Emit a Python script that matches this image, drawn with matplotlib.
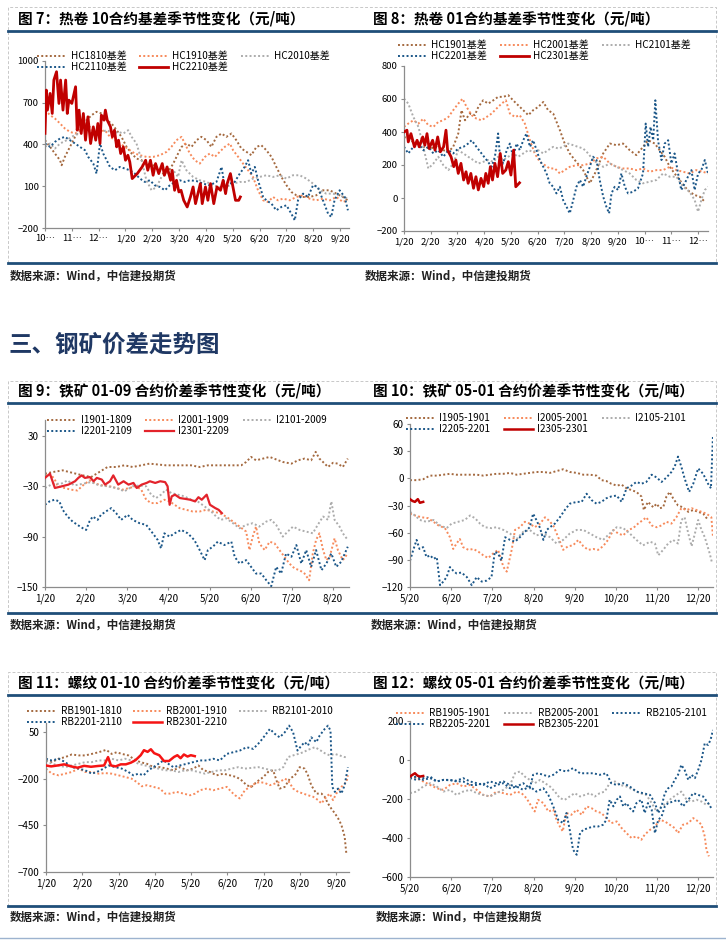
import matplotlib.pyplot as plt
from matplotlib.lines import Line2D
from matplotlib.patches import Rectangle

plt.rcParams['font.family'] = ['Noto Sans CJK SC', 'DejaVu Sans']

W, H = 726, 940

BROWN = '#A4693F'
ORANGE = '#F78A5B'
GRAY = '#ACACAC'
BLUE = '#1A5688'
DARK_RED = '#C00000'
RED = '#E3232B'
RED2 = '#F51414'
NAVY = '#1F4E79'
AXIS = '#8C8C8C'

# x values are months after the first tick of each chart

# ---- 图7 热卷10合约基差 ----
ticks7 = ['10⋯', '11⋯', '12⋯', '1/20', '2/20', '3/20', '4/20', '5/20', '6/20', '7/20', '8/20', '9/20']
hc1810 = [(0, 431), (0.19, 383), (0.37, 335), (0.56, 287), (0.62, 251), (0.74, 311), (0.93, 383), (1.12, 455),
          (1.30, 503), (1.55, 575), (1.74, 611), (1.92, 635), (2.11, 623), (2.30, 575), (2.48, 551), (2.67, 503),
          (2.85, 455), (3.04, 383), (3.23, 335), (3.41, 299), (3.60, 287), (3.78, 263), (4.03, 251), (4.22, 215),
          (4.40, 191), (4.59, 203), (4.78, 263), (4.96, 335), (5.09, 383), (5.27, 407), (5.46, 383), (5.65, 431),
          (5.83, 455), (6.02, 431), (6.20, 383), (6.39, 455), (6.58, 479), (6.76, 455), (6.95, 479), (7.13, 431),
          (7.32, 371), (7.51, 347), (7.69, 323), (7.88, 383), (8.06, 395), (8.25, 359), (8.44, 311), (8.62, 239),
          (8.81, 167), (9.00, 107), (9.18, 59), (9.37, 35), (9.62, 23), (9.86, 23), (10.11, 35), (10.36, 71),
          (10.61, 71), (10.86, 47), (11.10, 23), (11.29, -1)]
hc1910 = [(0, 647), (0.19, 611), (0.37, 587), (0.56, 551), (0.74, 515), (0.93, 491), (1.12, 479), (1.30, 503),
          (1.49, 539), (1.67, 527), (1.86, 479), (2.23, 503), (2.42, 455), (2.61, 431), (2.79, 407), (2.98, 383),
          (3.16, 359), (3.35, 335), (3.54, 323), (3.78, 311), (4.03, 311), (4.28, 323), (4.53, 347), (4.71, 383),
          (4.90, 431), (5.09, 455), (5.21, 407), (5.40, 335), (5.58, 287), (5.77, 263), (5.96, 311), (6.14, 335),
          (6.33, 311), (6.51, 347), (6.70, 383), (6.89, 407), (7.01, 359), (7.20, 311), (7.38, 263), (7.57, 215),
          (7.75, 167), (7.94, 71), (8.13, -1), (8.31, -13), (8.50, 23), (8.68, -1), (8.87, 11), (9.12, -1),
          (9.37, 23), (9.62, 35), (9.86, 11), (10.11, -1), (10.36, 11), (10.61, -1), (10.86, 23), (11.10, -13),
          (11.29, -1)]
hc2010 = [(0, 383), (0.19, 407), (0.37, 371), (0.56, 407), (0.81, 431), (0.99, 455), (1.24, 479), (1.43, 491),
          (1.67, 503), (1.92, 515), (2.11, 491), (2.30, 503), (2.54, 479), (2.73, 491), (2.92, 479), (3.10, 503),
          (3.23, 455), (3.41, 407), (3.60, 287), (3.78, 143), (3.97, 71), (4.16, 95), (4.34, 167), (4.53, 191),
          (4.78, 215), (4.96, 167), (5.09, 287), (5.27, 215), (5.52, 167), (5.77, 143), (6.02, 131), (6.27, 107),
          (6.51, 95), (6.76, 95), (7.01, 119), (7.26, 131), (7.51, 131), (7.75, 155), (8.00, 167), (8.25, 179),
          (8.50, 167), (8.75, 179), (9.00, 155), (9.24, 179), (9.49, 179), (9.74, 155), (9.99, 119), (10.24, 71),
          (10.48, 47), (10.73, 47), (10.98, 35), (11.29, 11)]
hc2110 = [(0, 407), (0.19, 383), (0.37, 419), (0.56, 443), (0.74, 455), (0.93, 431), (1.12, 407), (1.30, 383),
          (1.49, 359), (1.61, 311), (1.80, 263), (1.92, 191), (2.05, 407), (2.17, 335), (2.30, 287), (2.42, 239),
          (2.61, 215), (2.79, 239), (2.98, 227), (3.16, 215), (3.35, 191), (3.54, 155), (3.72, 131), (3.91, 143),
          (4.09, 107), (4.28, 95), (4.47, 71), (4.65, 107), (4.84, 131), (5.02, 143), (5.21, 131), (5.40, 143),
          (5.65, 137), (5.89, 119), (6.14, 107), (6.39, 131), (6.58, 239), (6.70, 95), (6.89, 119), (7.07, 131),
          (7.26, 191), (7.44, 239), (7.57, 287), (7.69, 191), (7.82, 239), (7.94, 143), (8.13, 23), (8.25, -1),
          (8.44, -25), (8.62, -73), (8.81, -49), (9.00, -37), (9.18, -97), (9.31, -145), (9.43, -1), (9.62, 47),
          (9.80, 23), (9.99, 107), (10.17, 95), (10.36, -1), (10.55, -97), (10.67, -121), (10.79, -1),
          (10.98, 71), (11.17, 23), (11.29, -73)]
hc2210 = [(0, 480), (0.05, 791), (0.09, 647), (0.19, 767), (0.27, 623), (0.33, 863), (0.43, 923), (0.52, 695),
          (0.58, 863), (0.67, 647), (0.77, 863), (0.83, 623), (0.89, 719), (1.00, 695), (1.14, 815), (1.20, 503),
          (1.27, 647), (1.35, 479), (1.43, 623), (1.51, 431), (1.60, 599), (1.70, 407), (1.80, 527), (1.89, 431),
          (1.97, 551), (2.05, 407), (2.10, 611), (2.20, 575), (2.25, 647), (2.32, 575), (2.44, 527), (2.51, 455),
          (2.59, 503), (2.67, 383), (2.74, 431), (2.82, 335), (2.92, 383), (3.00, 287), (3.09, 323), (3.16, 275),
          (3.25, 155), (3.44, 191), (3.62, 239), (3.75, 287), (3.83, 215), (3.93, 287), (4.03, 179), (4.12, 263),
          (4.24, 191), (4.37, 263), (4.45, 179), (4.55, 239), (4.68, 143), (4.74, 215), (4.83, 71), (4.90, 143),
          (4.99, 59), (5.07, 71), (5.17, -1), (5.30, -49), (5.42, 23), (5.52, 95), (5.61, -25), (5.70, 47),
          (5.79, 119), (5.86, -25), (5.98, 95), (6.07, -1), (6.17, 119), (6.29, -25), (6.41, 95), (6.54, 71),
          (6.64, 143), (6.73, 47), (6.79, 119), (6.91, 191), (7.10, -1), (7.22, -1), (7.28, 23)]

# ---- 图8 热卷01合约基差 ----
ticks8 = ['1/20', '2/20', '3/20', '4/20', '5/20', '6/20', '7/20', '8/20', '9/20', '10⋯', '11⋯', '12⋯']
hc1901 = [(0, 371), (0.22, 350), (0.47, 330), (0.72, 310), (0.97, 300), (1.22, 310), (1.47, 290), (1.66, 280),
          (1.84, 310), (2.03, 391), (2.15, 532), (2.28, 471), (2.47, 512), (2.65, 502), (2.78, 552), (2.96, 592),
          (3.15, 572), (3.34, 592), (3.52, 613), (3.71, 613), (3.90, 623), (4.08, 592), (4.27, 562), (4.46, 532),
          (4.65, 502), (4.83, 532), (5.02, 552), (5.21, 582), (5.39, 532), (5.58, 512), (5.83, 411), (6.01, 330),
          (6.20, 270), (6.39, 230), (6.70, 169), (6.95, 89), (7.14, 149), (7.45, 270), (7.70, 330), (7.95, 320),
          (8.19, 330), (8.44, 290), (8.69, 260), (8.94, 310), (9.13, 350), (9.38, 330), (9.56, 290), (9.75, 250),
          (9.94, 189), (10.12, 149), (10.31, 109), (10.50, 68), (10.68, 38), (10.87, 18), (11.06, 8), (11.25, -23)]
hc2001 = [(0, 431), (0.16, 451), (0.35, 471), (0.54, 451), (0.72, 481), (0.91, 441), (1.10, 431), (1.28, 461),
          (1.47, 471), (1.66, 491), (1.84, 532), (2.03, 572), (2.19, 602), (2.34, 552), (2.53, 502), (2.71, 481),
          (2.90, 471), (3.09, 491), (3.28, 512), (3.46, 542), (3.65, 572), (3.81, 592), (3.96, 512), (4.15, 491),
          (4.33, 502), (4.52, 451), (4.71, 350), (4.89, 270), (5.08, 219), (5.27, 199), (5.45, 179), (5.64, 179),
          (5.83, 149), (6.01, 169), (6.20, 189), (6.45, 199), (6.70, 199), (6.95, 209), (7.20, 240), (7.45, 250),
          (7.70, 209), (7.95, 189), (8.19, 179), (8.44, 179), (8.69, 169), (8.94, 179), (9.19, 159), (9.44, 169),
          (9.69, 169), (9.94, 189), (10.19, 169), (10.44, 159), (10.68, 149), (10.93, 169), (11.18, 159),
          (11.37, 149)]
hc2101 = [(0, 602), (0.16, 572), (0.35, 491), (0.54, 431), (0.72, 310), (0.91, 179), (1.10, 209), (1.28, 250),
          (1.47, 199), (1.66, 169), (1.84, 209), (2.03, 290), (2.22, 270), (2.40, 250), (2.59, 230), (2.78, 209),
          (2.96, 219), (3.15, 230), (3.34, 219), (3.52, 250), (3.71, 230), (3.90, 250), (4.08, 270), (4.27, 250),
          (4.46, 270), (4.65, 290), (4.83, 280), (5.02, 290), (5.21, 270), (5.39, 290), (5.58, 310), (5.77, 300),
          (5.95, 310), (6.14, 330), (6.33, 320), (6.51, 310), (6.70, 300), (6.89, 270), (7.07, 230), (7.26, 209),
          (7.45, 189), (7.70, 209), (7.95, 189), (8.19, 169), (8.44, 149), (8.69, 109), (8.94, 89), (9.19, 99),
          (9.44, 109), (9.69, 149), (9.94, 129), (10.19, 129), (10.44, 68), (10.68, 38), (10.87, -12),
          (11.00, -83), (11.12, -12), (11.25, 48), (11.37, 68)]
hc2201 = [(0, 310), (0.16, 270), (0.35, 310), (0.54, 330), (0.72, 290), (0.91, 310), (1.10, 270), (1.28, 290),
          (1.47, 250), (1.66, 290), (1.84, 270), (2.03, 300), (2.22, 310), (2.40, 330), (2.53, 350), (2.71, 310),
          (2.90, 270), (3.09, 230), (3.28, 189), (3.40, 250), (3.52, 391), (3.59, 250), (3.71, 209), (3.84, 290),
          (3.96, 330), (4.08, 250), (4.21, 330), (4.33, 290), (4.46, 350), (4.58, 391), (4.71, 310), (4.83, 350),
          (4.96, 290), (5.08, 230), (5.21, 189), (5.33, 149), (5.45, 89), (5.58, 68), (5.70, 28), (5.83, 68),
          (5.95, -12), (6.08, -53), (6.20, -93), (6.33, -12), (6.45, 68), (6.58, 109), (6.70, 68), (6.82, 129),
          (6.95, 189), (7.07, 250), (7.20, 230), (7.32, 109), (7.45, 8), (7.57, -53), (7.67, -93), (7.76, 28),
          (7.88, 68), (8.01, 48), (8.13, 149), (8.26, 68), (8.38, 28), (8.57, 38), (8.75, 58), (8.94, 149),
          (9.04, 451), (9.13, 310), (9.22, 431), (9.32, 350), (9.40, 592), (9.50, 350), (9.63, 230), (9.75, 330),
          (9.88, 350), (10.00, 209), (10.12, 270), (10.25, 149), (10.37, 48), (10.50, 89), (10.62, 129),
          (10.75, 169), (10.87, 48), (11.00, 149), (11.12, 169), (11.25, 230), (11.37, 149)]
hc2301 = [(0.01, 401), (0.11, 411), (0.16, 340), (0.26, 390), (0.39, 310), (0.49, 350), (0.57, 310), (0.70, 370),
          (0.78, 320), (0.86, 390), (0.94, 300), (1.07, 350), (1.16, 290), (1.26, 370), (1.36, 280), (1.48, 310),
          (1.57, 411), (1.63, 290), (1.76, 250), (1.86, 190), (1.94, 230), (2.03, 149), (2.13, 210), (2.23, 109),
          (2.32, 159), (2.40, 89), (2.50, 149), (2.60, 59), (2.69, 129), (2.78, 49), (2.88, 119), (2.98, 69),
          (3.06, 149), (3.15, 89), (3.23, 190), (3.31, 109), (3.40, 210), (3.50, 129), (3.60, 270), (3.69, 149),
          (3.81, 170), (3.90, 220), (4.00, 139), (4.10, 290), (4.18, 68), (4.32, 92)]

# ---- 图9 铁矿01-09价差 ----
ticks9 = ['1/20', '2/20', '3/20', '4/20', '5/20', '6/20', '7/20', '8/20']
i1901 = [(0, -15), (0.19, -13), (0.43, -11), (0.67, -14), (0.92, -17), (1.12, -19), (1.32, -13), (1.52, -7),
         (1.73, -7), (1.93, -5), (2.13, -7), (2.34, -5), (2.54, -3), (2.74, -4), (2.94, -5), (3.15, -5),
         (3.35, -5), (3.55, -5), (3.76, -7), (3.96, -5), (4.16, -5), (4.36, -5), (4.57, -5), (4.77, -5),
         (4.89, -1), (5.01, 5), (5.13, 1), (5.30, 3), (5.46, 5), (5.62, 2), (5.78, -1), (5.99, -3), (6.15, 1),
         (6.31, 3), (6.47, 1), (6.58, 11), (6.67, 3), (6.80, -3), (6.88, -7), (7.00, -2), (7.12, -3), (7.24, -7),
         (7.36, 3)]
i2001 = [(0, -17), (0.11, -15), (0.23, -21), (0.31, -30), (0.47, -32), (0.63, -34), (0.79, -35), (0.92, -29),
         (1.08, -23), (1.24, -27), (1.40, -29), (1.57, -30), (1.73, -32), (1.89, -34), (2.05, -32), (2.21, -30),
         (2.34, -34), (2.46, -46), (2.58, -50), (2.74, -50), (2.90, -46), (3.03, -48), (3.15, -52), (3.27, -56),
         (3.43, -58), (3.59, -60), (3.76, -60), (3.92, -58), (4.08, -60), (4.24, -62), (4.40, -66), (4.57, -72),
         (4.73, -78), (4.89, -84), (4.97, -106), (5.05, -90), (5.13, -78), (5.21, -98), (5.34, -106), (5.46, -96),
         (5.58, -98), (5.70, -106), (5.82, -114), (5.94, -122), (6.07, -128), (6.19, -130), (6.31, -134),
         (6.42, -142), (6.51, -110), (6.59, -94), (6.67, -86), (6.76, -106), (6.84, -118), (6.92, -114),
         (7.04, -92), (7.12, -106), (7.24, -118), (7.36, -110)]
i2101 = [(0, -32), (0.19, -27), (0.39, -27), (0.55, -23), (0.71, -29), (0.92, -27), (1.12, -25), (1.32, -29),
         (1.52, -30), (1.73, -32), (1.93, -36), (2.13, -30), (2.30, -29), (2.46, -30), (2.58, -40), (2.70, -44),
         (2.82, -40), (2.94, -34), (3.07, -38), (3.23, -40), (3.39, -42), (3.55, -46), (3.71, -48), (3.88, -54),
         (4.04, -60), (4.16, -66), (4.28, -70), (4.40, -68), (4.57, -74), (4.73, -80), (4.89, -76), (5.05, -74),
         (5.21, -78), (5.38, -72), (5.50, -70), (5.62, -76), (5.78, -90), (5.90, -84), (6.03, -78), (6.19, -82),
         (6.35, -84), (6.51, -86), (6.63, -76), (6.76, -66), (6.88, -70), (6.96, -48), (7.04, -70), (7.16, -78),
         (7.24, -86), (7.36, -94)]
i2201 = [(0, -52), (0.11, -48), (0.23, -46), (0.35, -48), (0.43, -58), (0.55, -66), (0.67, -72), (0.79, -76),
         (0.92, -80), (1.00, -82), (1.08, -72), (1.16, -66), (1.28, -70), (1.36, -64), (1.48, -60), (1.61, -56),
         (1.73, -62), (1.85, -70), (2.01, -64), (2.13, -70), (2.30, -74), (2.46, -76), (2.62, -86), (2.74, -94),
         (2.82, -104), (2.90, -86), (3.03, -90), (3.15, -86), (3.31, -82), (3.47, -86), (3.63, -94), (3.76, -106),
         (3.88, -118), (3.96, -106), (4.08, -102), (4.20, -96), (4.36, -100), (4.53, -96), (4.61, -114),
         (4.73, -122), (4.89, -118), (5.01, -126), (5.13, -134), (5.26, -134), (5.38, -142), (5.50, -149),
         (5.62, -126), (5.74, -134), (5.86, -110), (5.99, -114), (6.11, -100), (6.23, -122), (6.35, -106),
         (6.47, -126), (6.59, -106), (6.72, -130), (6.84, -122), (6.96, -110), (7.08, -126), (7.20, -120),
         (7.36, -102)]
i2301 = [(0, -20), (0.12, -15), (0.24, -32), (0.41, -30), (0.57, -28), (0.73, -24), (0.81, -20), (0.89, -17),
         (0.97, -20), (1.09, -19), (1.18, -24), (1.26, -20), (1.38, -22), (1.46, -28), (1.58, -24), (1.66, -17),
         (1.78, -28), (1.91, -24), (2.03, -28), (2.15, -26), (2.23, -32), (2.35, -28), (2.47, -26), (2.55, -24),
         (2.68, -26), (2.80, -24), (2.92, -25), (2.98, -30), (3.03, -52), (3.08, -42), (3.16, -40), (3.28, -44),
         (3.41, -45), (3.53, -46), (3.65, -48), (3.73, -43), (3.81, -46), (3.93, -40), (4.01, -52), (4.14, -56),
         (4.22, -58), (4.30, -62)]

# ---- 图10 铁矿05-01价差 ----
ticks10 = ['5/20', '6/20', '7/20', '8/20', '9/20', '10/20', '11/20', '12/20']
i1905 = [(0, -2), (0.16, -2), (0.32, -1), (0.40, 1), (0.49, 3), (0.65, 3), (0.81, 4), (0.97, 5), (1.13, 4),
         (1.29, 4), (1.46, 4), (1.62, 4), (1.78, 3), (1.94, 4), (2.10, 5), (2.27, 5), (2.43, 6), (2.59, 4),
         (2.75, 5), (2.91, 6), (3.07, 7), (3.24, 7), (3.40, 6), (3.56, 8), (3.72, 10), (3.88, 7), (4.05, 6),
         (4.21, 4), (4.37, 4), (4.53, 3), (4.65, -2), (4.77, -3), (4.89, -6), (5.02, -8), (5.14, -7), (5.26, -11),
         (5.38, -13), (5.50, -15), (5.62, -20), (5.68, -35), (5.78, -26), (5.91, -32), (5.99, -28), (6.07, -33),
         (6.15, -32), (6.23, -20), (6.31, -15), (6.39, -22), (6.51, -30), (6.63, -32), (6.76, -37), (6.88, -35),
         (7.00, -37), (7.12, -39), (7.24, -46)]
i2005 = [(0, -39), (0.12, -41), (0.28, -43), (0.44, -44), (0.57, -48), (0.69, -52), (0.85, -55), (0.97, -65),
         (1.05, -78), (1.13, -72), (1.21, -67), (1.29, -76), (1.42, -79), (1.54, -78), (1.66, -81), (1.78, -85),
         (1.90, -88), (2.02, -83), (2.14, -79), (2.27, -98), (2.35, -103), (2.47, -79), (2.55, -57), (2.67, -54),
         (2.79, -48), (2.91, -50), (3.03, -54), (3.16, -50), (3.28, -43), (3.36, -46), (3.48, -52), (3.60, -65),
         (3.72, -79), (3.84, -75), (3.96, -74), (4.09, -68), (4.21, -75), (4.33, -79), (4.45, -78), (4.57, -79),
         (4.69, -75), (4.81, -68), (4.94, -57), (5.06, -61), (5.18, -63), (5.30, -57), (5.42, -55), (5.54, -50),
         (5.66, -46), (5.74, -43), (5.87, -52), (5.99, -54), (6.11, -52), (6.23, -48), (6.35, -50), (6.47, -43),
         (6.59, -33), (6.72, -35), (6.84, -33), (6.96, -35), (7.08, -37), (7.20, -39), (7.32, -43), (7.36, -65)]
i2105 = [(0, -37), (0.12, -41), (0.24, -46), (0.40, -48), (0.57, -46), (0.73, -52), (0.89, -55), (1.01, -50),
         (1.17, -48), (1.33, -46), (1.46, -41), (1.58, -44), (1.70, -50), (1.82, -54), (1.98, -55), (2.10, -54),
         (2.27, -57), (2.43, -61), (2.59, -67), (2.75, -59), (2.91, -57), (3.07, -63), (3.24, -61), (3.40, -65),
         (3.56, -72), (3.72, -68), (3.88, -61), (4.05, -57), (4.21, -57), (4.37, -61), (4.53, -65), (4.69, -68),
         (4.85, -61), (5.02, -54), (5.18, -55), (5.34, -61), (5.50, -68), (5.66, -74), (5.83, -70), (5.95, -72),
         (6.03, -85), (6.15, -79), (6.27, -72), (6.39, -68), (6.51, -72), (6.59, -46), (6.67, -43), (6.76, -61),
         (6.84, -75), (6.92, -61), (7.00, -46), (7.08, -57), (7.16, -65), (7.28, -83), (7.34, -94)]
i2205 = [(0, -91), (0.08, -79), (0.16, -68), (0.23, -78), (0.32, -76), (0.40, -87), (0.49, -85), (0.57, -89),
         (0.65, -87), (0.73, -118), (0.81, -114), (0.89, -109), (0.97, -98), (1.05, -102), (1.13, -105),
         (1.25, -104), (1.38, -109), (1.50, -118), (1.62, -109), (1.74, -114), (1.86, -113), (1.98, -109),
         (2.06, -81), (2.14, -83), (2.22, -91), (2.31, -65), (2.43, -68), (2.55, -70), (2.67, -65), (2.79, -59),
         (2.91, -54), (2.99, -39), (3.07, -46), (3.16, -55), (3.24, -68), (3.32, -57), (3.40, -54), (3.52, -50),
         (3.64, -43), (3.76, -35), (3.88, -28), (4.05, -26), (4.17, -26), (4.29, -17), (4.41, -24), (4.53, -28),
         (4.65, -26), (4.77, -22), (4.89, -20), (5.02, -19), (5.14, -26), (5.26, -11), (5.38, -8), (5.50, -4),
         (5.62, -6), (5.74, -4), (5.87, 4), (5.99, 1), (6.11, -4), (6.23, 1), (6.35, 7), (6.43, 13), (6.51, 24),
         (6.59, 13), (6.67, 0), (6.78, -15), (6.88, -6), (7.00, 11), (7.12, 5), (7.24, -6), (7.31, -11),
         (7.36, 48)]
i2305 = [(0, -23), (0.06, -25), (0.12, -26), (0.19, -23), (0.24, -27), (0.32, -26)]

# ---- 图11 螺纹01-10价差 ----
ticks11 = ['1/20', '2/20', '3/20', '4/20', '5/20', '6/20', '7/20', '8/20', '9/20']
rb1901 = [(0, -101), (0.16, -110), (0.35, -92), (0.53, -83), (0.71, -69), (0.90, -74), (1.08, -74), (1.26, -66),
          (1.45, -57), (1.66, -44), (1.81, -66), (1.95, -57), (2.09, -66), (2.27, -74), (2.41, -92), (2.59, -110),
          (2.78, -119), (2.96, -137), (3.14, -137), (3.33, -145), (3.51, -154), (3.69, -137), (3.88, -154),
          (4.06, -145), (4.20, -128), (4.34, -154), (4.52, -163), (4.70, -181), (4.89, -172), (5.07, -181),
          (5.25, -190), (5.39, -208), (5.53, -234), (5.66, -243), (5.80, -217), (5.99, -190), (6.12, -163),
          (6.26, -154), (6.35, -208), (6.44, -252), (6.58, -243), (6.72, -199), (6.86, -181), (6.99, -137),
          (7.13, -145), (7.22, -181), (7.31, -234), (7.45, -279), (7.59, -279), (7.68, -296), (7.77, -332),
          (7.86, -359), (7.96, -385), (8.05, -412), (8.14, -447), (8.23, -510), (8.28, -608)]
rb2001 = [(0, -145), (0.16, -172), (0.35, -181), (0.53, -172), (0.71, -163), (0.90, -145), (1.08, -163),
          (1.26, -163), (1.45, -172), (1.63, -169), (1.81, -172), (2.00, -181), (2.18, -190), (2.36, -199),
          (2.50, -217), (2.64, -240), (2.78, -234), (2.96, -243), (3.14, -252), (3.28, -279), (3.42, -279),
          (3.60, -270), (3.79, -279), (3.97, -288), (4.11, -279), (4.24, -261), (4.43, -252), (4.61, -261),
          (4.79, -252), (4.98, -243), (5.11, -270), (5.21, -288), (5.34, -305), (5.48, -261), (5.62, -243),
          (5.76, -225), (5.89, -217), (6.03, -222), (6.17, -234), (6.31, -225), (6.44, -217), (6.58, -199),
          (6.67, -208), (6.81, -252), (6.95, -270), (7.09, -279), (7.22, -288), (7.36, -296), (7.50, -314),
          (7.59, -332), (7.73, -296), (7.82, -279), (7.91, -314), (8.00, -279), (8.14, -243), (8.28, -217),
          (8.32, -181)]
rb2101 = [(0, -101), (0.16, -119), (0.35, -128), (0.53, -137), (0.71, -128), (0.90, -119), (1.08, -110),
          (1.26, -110), (1.45, -101), (1.63, -101), (1.81, -92), (2.00, -101), (2.18, -92), (2.36, -101),
          (2.55, -119), (2.73, -128), (2.91, -137), (3.10, -145), (3.28, -154), (3.46, -154), (3.65, -163),
          (3.83, -154), (4.01, -154), (4.20, -163), (4.38, -172), (4.56, -163), (4.75, -154), (4.93, -154),
          (5.11, -145), (5.30, -137), (5.48, -145), (5.66, -141), (5.85, -137), (6.03, -145), (6.21, -154),
          (6.40, -154), (6.54, -137), (6.67, -83), (6.81, -74), (6.95, -66), (7.09, -57), (7.22, -44), (7.41, -30),
          (7.54, -44), (7.68, -62), (7.82, -74), (7.96, -66), (8.09, -74), (8.23, -83), (8.32, -83)]
rb2201 = [(0, -92), (0.16, -101), (0.35, -92), (0.53, -110), (0.71, -137), (0.90, -145), (1.08, -154),
          (1.26, -172), (1.40, -163), (1.59, -145), (1.72, -128), (1.91, -137), (2.09, -145), (2.27, -163),
          (2.41, -181), (2.55, -172), (2.69, -181), (2.82, -154), (2.96, -137), (3.10, -119), (3.24, -101),
          (3.37, -119), (3.51, -137), (3.69, -128), (3.88, -119), (4.06, -110), (4.24, -101), (4.43, -101),
          (4.61, -92), (4.79, -101), (4.98, -66), (5.16, -57), (5.34, -48), (5.53, -30), (5.71, -39), (5.89, -3),
          (6.03, 32), (6.17, 68), (6.31, 41), (6.44, 23), (6.58, 50), (6.70, 86), (6.81, 50), (6.93, -48),
          (7.04, -21), (7.13, -3), (7.22, -21), (7.31, 23), (7.45, -3), (7.54, 32), (7.68, 68), (7.77, 86),
          (7.84, 59), (7.89, -243), (7.96, -270), (8.05, -252), (8.14, -279), (8.23, -234), (8.32, -137)]
rb2301 = [(0, -128), (0.14, -133), (0.32, -128), (0.50, -122), (0.69, -133), (0.87, -140), (1.05, -130),
          (1.24, -135), (1.42, -131), (1.60, -128), (1.71, -83), (1.79, -128), (1.92, -133), (2.06, -122),
          (2.20, -122), (2.34, -113), (2.47, -99), (2.61, -73), (2.70, -46), (2.80, -55), (2.89, -41), (2.98, -62),
          (3.12, -73), (3.25, -104), (3.39, -104), (3.53, -82), (3.62, -73), (3.71, -89), (3.80, -69), (3.90, -80),
          (3.99, -73), (4.10, -78)]

# ---- 图12 螺纹05-01价差 ----
ticks12 = ['5/20', '6/20', '7/20', '8/20', '9/20', '10/20', '11/20', '12/20']
rb1905 = [(0, -85), (0.16, -93), (0.32, -110), (0.49, -128), (0.65, -145), (0.81, -153), (0.97, -128),
          (1.13, -119), (1.29, -136), (1.46, -128), (1.62, -153), (1.78, -179), (1.94, -187), (2.10, -162),
          (2.27, -170), (2.43, -179), (2.59, -162), (2.71, -170), (2.83, -196), (2.95, -238), (3.03, -264),
          (3.11, -204), (3.24, -221), (3.36, -264), (3.48, -255), (3.56, -307), (3.64, -341), (3.71, -366),
          (3.80, -272), (3.92, -281), (4.05, -255), (4.17, -281), (4.29, -238), (4.41, -247), (4.53, -264),
          (4.65, -272), (4.77, -298), (4.89, -324), (5.02, -315), (5.14, -349), (5.26, -375), (5.38, -400),
          (5.50, -392), (5.62, -409), (5.70, -383), (5.83, -358), (5.95, -341), (6.07, -307), (6.19, -315),
          (6.31, -332), (6.43, -349), (6.51, -375), (6.63, -332), (6.76, -324), (6.88, -298), (7.00, -315),
          (7.08, -332), (7.16, -392), (7.20, -460), (7.26, -494)]
rb2005 = [(0, -170), (0.16, -162), (0.32, -136), (0.49, -119), (0.65, -136), (0.81, -162), (0.97, -153),
          (1.13, -179), (1.29, -162), (1.46, -153), (1.62, -170), (1.78, -179), (1.94, -187), (2.10, -170),
          (2.27, -153), (2.43, -128), (2.55, -68), (2.67, -59), (2.79, -85), (2.91, -102), (3.03, -119),
          (3.16, -102), (3.28, -119), (3.40, -136), (3.52, -162), (3.64, -196), (3.76, -204), (3.88, -187),
          (4.00, -170), (4.13, -187), (4.25, -179), (4.37, -170), (4.49, -187), (4.61, -170), (4.73, -162),
          (4.85, -119), (4.98, -110), (5.10, -128), (5.26, -136), (5.42, -153), (5.58, -170), (5.74, -179),
          (5.87, -221), (5.99, -264), (6.11, -238), (6.23, -221), (6.35, -196), (6.47, -179), (6.59, -162),
          (6.72, -204), (6.84, -213), (6.96, -204), (7.08, -213), (7.20, -230), (7.32, -218)]
rb2105 = [(0, -93), (0.16, -102), (0.32, -93), (0.49, -85), (0.65, -110), (0.81, -102), (0.97, -102),
          (1.13, -110), (1.29, -110), (1.46, -128), (1.62, -128), (1.78, -119), (1.94, -145), (2.10, -128),
          (2.27, -119), (2.43, -145), (2.59, -136), (2.75, -153), (2.91, -136), (3.07, -162), (3.24, -145),
          (3.36, -179), (3.48, -238), (3.60, -307), (3.72, -324), (3.80, -272), (3.88, -358), (3.96, -460),
          (4.05, -486), (4.13, -375), (4.21, -358), (4.33, -349), (4.45, -341), (4.57, -341), (4.69, -332),
          (4.77, -307), (4.85, -204), (4.94, -238), (5.02, -204), (5.10, -187), (5.18, -238), (5.26, -221),
          (5.34, -247), (5.42, -264), (5.50, -221), (5.62, -204), (5.70, -272), (5.78, -221), (5.87, -255),
          (5.95, -375), (6.03, -307), (6.11, -290), (6.19, -238), (6.27, -221), (6.39, -213), (6.51, -204),
          (6.63, -238), (6.76, -204), (6.88, -170), (7.00, -179), (7.12, -187), (7.24, -221), (7.32, -247)]
rb2205 = [(0, -93), (0.16, -85), (0.32, -102), (0.49, -93), (0.65, -110), (0.81, -102), (0.97, -104),
          (1.13, -106), (1.29, -93), (1.46, -110), (1.62, -119), (1.78, -128), (1.94, -110), (2.10, -119),
          (2.27, -110), (2.43, -128), (2.59, -136), (2.75, -119), (2.91, -145), (2.99, -76), (3.11, -68),
          (3.24, -76), (3.36, -85), (3.48, -76), (3.64, -51), (3.80, -59), (3.96, -42), (4.13, -68), (4.29, -68),
          (4.45, -68), (4.61, -76), (4.77, -68), (4.89, -119), (5.02, -128), (5.18, -119), (5.34, -136),
          (5.50, -162), (5.66, -170), (5.83, -179), (5.95, -221), (6.03, -272), (6.11, -238), (6.19, -170),
          (6.27, -145), (6.35, -136), (6.43, -102), (6.51, -76), (6.59, -25), (6.67, -51), (6.76, -102),
          (6.84, -76), (6.92, -93), (7.00, -51), (7.08, 0), (7.16, 86), (7.24, 77), (7.30, 103), (7.36, 154)]
rb2305 = [(0, -85), (0.06, -76), (0.12, -68), (0.18, -80), (0.24, -85), (0.32, -82)]


fig = plt.figure(figsize=(W / 100, H / 100), dpi=100)
fig.patch.set_facecolor('white')


def fx(x):
    return x / W


def fy(y):
    return 1 - y / H


def panel(box, series, ticks, xmax, ylim, yticks, leg_xy, red_lw, fs=7.0, lfs=7.2, colsp=1.35):
    l, t, r, b = box
    ax = fig.add_axes([fx(l), fy(b), (r - l) / W, (b - t) / H])
    handles = []
    for label, pts, color in series:
        x, y = zip(*pts)
        if color in (DARK_RED, RED, RED2):
            ln, = ax.plot(x, y, color=color, lw=red_lw, label=label, zorder=5)
        else:
            ln, = ax.plot(x, y, color=color, lw=1.4, ls=(0, (1, 1.2)), label=label)
        handles.append(ln)
    ax.set_xlim(0, xmax)
    ax.set_ylim(*ylim)
    ax.set_xticks(range(len(ticks)))
    ax.set_xticklabels(ticks)
    ax.set_yticks(yticks)
    for s in ['top', 'right']:
        ax.spines[s].set_visible(False)
    for s in ['left', 'bottom']:
        ax.spines[s].set_color(AXIS)
        ax.spines[s].set_linewidth(0.9)
    ax.tick_params(length=2.5, width=0.8, color=AXIS, labelsize=fs, pad=2)
    ax.patch.set_alpha(0)
    order = [0, 3, 1, 4, 2]
    ax.legend([handles[i] for i in order], [handles[i].get_label() for i in order], ncol=3,
              loc='upper left', bbox_to_anchor=(fx(leg_xy[0]), fy(leg_xy[1])),
              bbox_transform=fig.transFigure, frameon=False, fontsize=lfs,
              handlelength=2.9, handletextpad=0.45, columnspacing=colsp,
              labelspacing=0.1, borderpad=0, borderaxespad=0)
    return ax


# panel frames, rules and titles
for top, rule, bottom in [(7, 31, 263), (381, 403, 613), (672, 695, 906)]:
    fig.add_artist(Rectangle((fx(8), fy(bottom)), (716 - 8) / W, (bottom - top) / H,
                             transform=fig.transFigure, fill=False, ec='#C8C8C8', lw=0.7, ls=(0, (3, 2))))
    for yy in (rule, bottom):
        fig.add_artist(Line2D([fx(8), fx(716)], [fy(yy), fy(yy)], transform=fig.transFigure,
                              color=NAVY, lw=2.0))

fig.add_artist(Line2D([0, 1], [fy(938), fy(938)], transform=fig.transFigure, color='#9DB3CF', lw=1.0))

titles = [
    (18, 19, '图 7：热卷 10合约基差季节性变化（元/吨）'),
    (373, 19, '图 8：热卷 01合约基差季节性变化（元/吨）'),
    (18, 391, '图 9：铁矿 01-09 合约价差季节性变化（元/吨）'),
    (373, 391, '图 10：铁矿 05-01 合约价差季节性变化（元/吨）'),
    (18, 683, '图 11：螺纹 01-10 合约价差季节性变化（元/吨）'),
    (373, 683, '图 12：螺纹 05-01 合约价差季节性变化（元/吨）'),
]
for x, y, s in titles:
    fig.text(fx(x), fy(y), s, fontsize=10.5, fontweight='bold', va='center', ha='left', color='black')

for x, y in [(10, 276), (365, 276), (10, 625), (371, 625), (10, 917), (376, 917)]:
    fig.text(fx(x), fy(y), '数据来源：Wind，中信建投期货', fontsize=8.3, fontweight='bold',
             fontstyle='italic', va='center', ha='left', color='#222222')

fig.text(fx(8), fy(345), '三、钢矿价差走势图', fontsize=16.9, fontweight='bold', va='center',
         ha='left', color='#1F3864')

panel((45, 61, 349, 228),
      [('HC1810基差', hc1810, BROWN), ('HC1910基差', hc1910, ORANGE), ('HC2010基差', hc2010, GRAY),
       ('HC2110基差', hc2110, BLUE), ('HC2210基差', hc2210, DARK_RED)],
      ticks7, 11.33, (-200, 1000), [-200, 100, 400, 700, 1000], (37, 51), 2.0, fs=6.8, colsp=1.25)

panel((404, 66, 708, 231),
      [('HC1901基差', hc1901, BROWN), ('HC2001基差', hc2001, ORANGE), ('HC2101基差', hc2101, GRAY),
       ('HC2201基差', hc2201, BLUE), ('HC2301基差', hc2301, DARK_RED)],
      ticks8, 11.37, (-200, 800), [-200, 0, 200, 400, 600, 800], (398, 40), 2.0, fs=6.8, colsp=1.25)

panel((45, 420, 349, 587),
      [('I1901-1809', i1901, BROWN), ('I2001-1909', i2001, ORANGE), ('I2101-2009', i2101, GRAY),
       ('I2201-2109', i2201, BLUE), ('I2301-2209', i2301, RED)],
      ticks9, 7.39, (-150, 49), [-150, -90, -30, 30], (47, 415), 1.6)

panel((410, 424, 713, 587),
      [('I1905-1901', i1905, BROWN), ('I2005-2001', i2005, ORANGE), ('I2105-2101', i2105, GRAY),
       ('I2205-2201', i2205, BLUE), ('I2305-2301', i2305, DARK_RED)],
      ticks10, 7.36, (-120, 60), [-120, -90, -60, -30, 0, 30, 60], (406, 413), 1.8)

panel((46, 723, 349, 872),
      [('RB1901-1810', rb1901, BROWN), ('RB2001-1910', rb2001, ORANGE), ('RB2101-2010', rb2101, GRAY),
       ('RB2201-2110', rb2201, BLUE), ('RB2301-2210', rb2301, RED2)],
      ticks11, 8.35, (-700, 100), [-700, -450, -200, 50], (27, 706), 1.8, colsp=1.15)

panel((410, 721, 713, 877),
      [('RB1905-1901', rb1905, ORANGE), ('RB2005-2001', rb2005, GRAY), ('RB2105-2101', rb2105, BLUE),
       ('RB2205-2201', rb2205, BLUE), ('RB2305-2201', rb2305, DARK_RED)],
      ticks12, 7.36, (-600, 200), [-600, -400, -200, 0, 200], (396, 708), 1.8)

fig.savefig('out.png', dpi=100)
